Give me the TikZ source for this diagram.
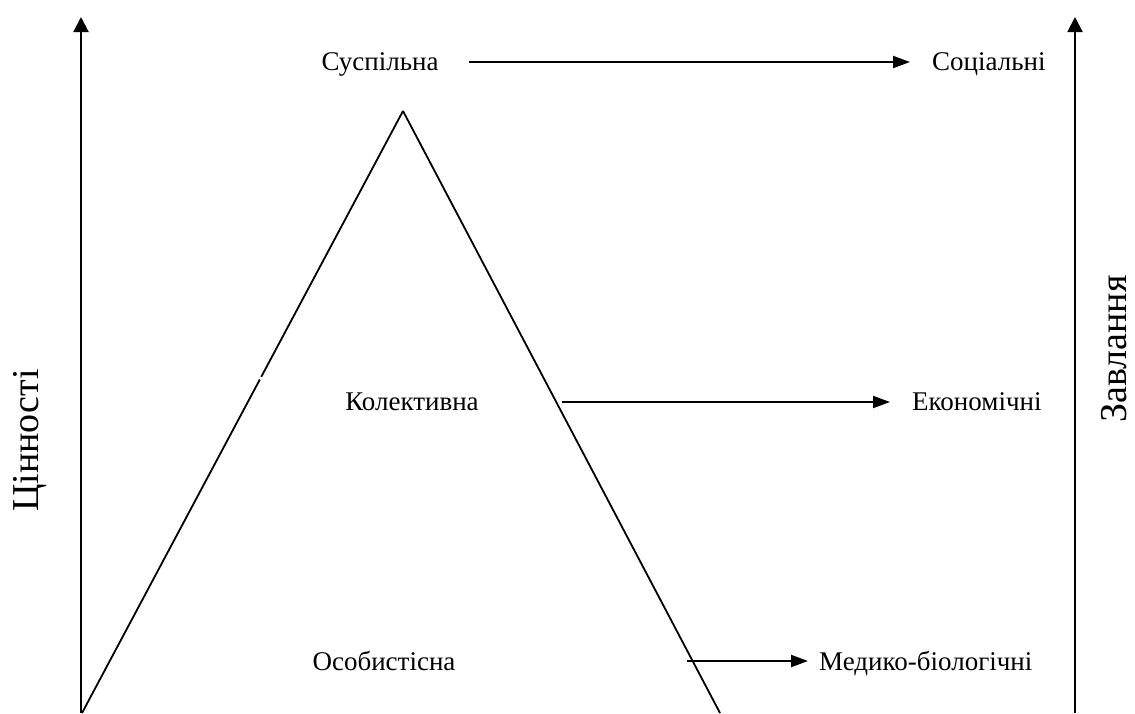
\documentclass[tikz,border=0pt]{standalone}
\usepackage{fontspec}
\setmainfont{Liberation Serif}
\usetikzlibrary{arrows.meta}
\begin{document}
\begin{tikzpicture}[x=1pt,y=-1pt,
  lbl/.style={font=\fontsize{27}{32}\selectfont, inner sep=0pt, anchor=base},
  axlbl/.style={font=\fontsize{38}{44}\selectfont, inner sep=0pt, rotate=90, anchor=base west},
  axisline/.style={line width=2pt, -{Triangle[length=15pt,width=15pt]}},
  side/.style={line width=1.8pt},
  link/.style={line width=2pt, -{Triangle[length=17pt,width=12pt]}, shorten >=22pt}]
\useasboundingbox (0,0) rectangle (1135,713);

% axes
\coordinate (l0) at (81,713);
\coordinate (l1) at (81,17);
\coordinate (r0) at (1075,713);
\coordinate (r1) at (1075,17);
\draw[axisline] (l0) -- (l1);
\draw[axisline] (r0) -- (r1);
\node[axlbl] (values) at (38,512) {Цінності};
\node[axlbl] (tasks) at (1126,423) {Завлання};

% triangle
\coordinate (tl) at (82,713);
\coordinate (tp) at (403,111);
\coordinate (tr) at (720,713);
\draw[side, dash pattern={on 378pt off 3pt on 400pt}] (tl) -- (tp);
\draw[side] (tp) -- (tr);

% levels
\node[lbl] (soc) at (380,70) {Суспільна};
\node[lbl] (col) at (412,410) {Колективна};
\node[lbl] (per) at (384,670) {Особистісна};

% outcomes
\node[lbl, anchor=base west] (o1) at (932,70) {Соціальні};
\node[lbl, anchor=base west] (o2) at (912,410) {Економічні};
\node[lbl, anchor=base west] (o3) at (819,670) {Медико-біологічні};

% links
\coordinate (a1) at (469,62);
\coordinate (a2) at (562,402);
\coordinate (a3) at (687,661);
\draw[link] (a1) -- (a1 -| o1.west);
\draw[link] (a2) -- (a2 -| o2.west);
\draw[link, shorten >=11pt] (a3) -- (a3 -| o3.west);
\end{tikzpicture}
\end{document}
